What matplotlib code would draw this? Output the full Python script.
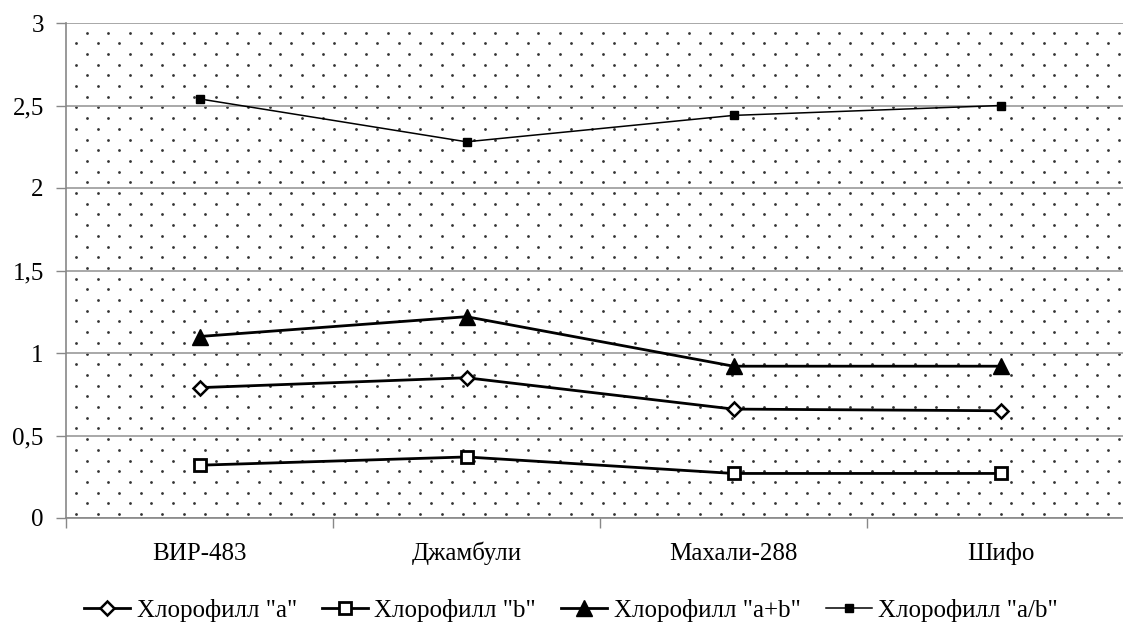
import numpy as np
import matplotlib
matplotlib.use("Agg")
from matplotlib import pyplot as plt

# data
varieties = ["ВИР-483", "Джамбули", "Махали-288", "Шифо"]
chl_a = [0.79, 0.85, 0.66, 0.65]
chl_b = [0.32, 0.37, 0.27, 0.27]
chl_ab_sum = [1.10, 1.22, 0.92, 0.92]
chl_ab_ratio = [2.54, 2.28, 2.44, 2.50]
y_ticks = [0, 0.5, 1, 1.5, 2, 2.5, 3]
y_labels = ["0", "0,5", "1", "1,5", "2", "2,5", "3"]

plt.rcParams['font.family'] = 'serif'
plt.rcParams['font.serif'] = ['Liberation Serif', 'DejaVu Serif']

W, H = 1123, 636
fig = plt.figure(figsize=(W / 100, H / 100), dpi=100)
# plot area in pixels: left 66, right ~1134 (cut by the image edge), top 23, bottom 518
L, R, T, B = 66, 1134, 23, 518
ax = fig.add_axes([L / W, 1 - B / H, (R - L) / W, (B - T) / H])

# dotted background texture (staggered grid of small dots)
dx, dy = 21.5, 10.7
pts = []
row = 0
y = B - 4
while y > T + 2:
    x0 = 76 if row % 2 == 0 else 86.7
    for xp in np.arange(x0, R, dx):
        pts.append(((xp - L) / (R - L), (B - y) / (B - T)))
    y -= dy
    row += 1
pts = np.array(pts)
ax.scatter(pts[:, 0], pts[:, 1], s=4, color="#333333", marker="o",
           linewidths=0, transform=ax.transAxes, zorder=0)

x = np.arange(len(varieties))
ax.plot(x, chl_a, color="black", lw=2, marker="D", ms=7, mfc="white",
        mec="black", mew=1.8, zorder=3, label='Хлорофилл "a"')
ax.plot(x, chl_b, color="black", lw=2, marker="s", ms=9, mfc="white",
        mec="black", mew=2, zorder=3, label='Хлорофилл "b"')
ax.plot(x, chl_ab_sum, color="black", lw=2, marker="^", ms=12, mfc="black",
        mec="black", zorder=3, label='Хлорофилл "a+b"')
ax.plot(x, chl_ab_ratio, color="black", lw=1.1, marker="s", ms=6.3,
        mfc="black", mec="black", zorder=3, label='Хлорофилл "a/b"')

ax.set_xlim(-0.5, 3.5)
ax.set_ylim(0, 3)
ax.set_yticks(y_ticks)
ax.set_yticklabels(y_labels, fontsize=18)
ax.set_xticks(x)
ax.set_xticklabels(varieties, fontsize=18)
for lab in ax.get_xticklabels():
    lab.set_verticalalignment("baseline")
ax.set_xticks([-0.5, 0.5, 1.5, 2.5, 3.5], minor=True)
ax.tick_params(axis="x", which="major", length=0, pad=30)
ax.tick_params(axis="x", which="minor", length=7, color="#888888", width=1)
ax.tick_params(axis="y", length=7, color="#888888", width=1, pad=9)
ax.grid(axis="y", color="#999999", lw=1.2, zorder=1)
ax.set_axisbelow(True)
for side in ["top", "right"]:
    ax.spines[side].set_visible(False)
for side in ["left", "bottom"]:
    ax.spines[side].set_color("#888888")
    ax.spines[side].set_linewidth(1.2)

handles, labels = ax.get_legend_handles_labels()
fig.legend(handles, labels, loc="center", bbox_to_anchor=(571 / W, 1 - 610 / H),
           ncol=4, frameon=False, fontsize=18, handlelength=1.85,
           handletextpad=0.25, columnspacing=1.0, markerscale=0.95,
           borderpad=0, borderaxespad=0)

fig.savefig("out.png", dpi=100)
